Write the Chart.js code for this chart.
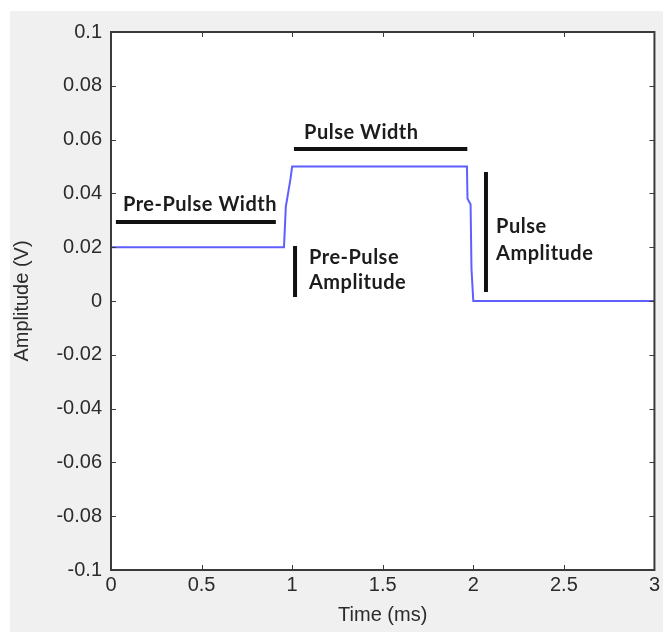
<!DOCTYPE html>
<html>
<head>
<meta charset="utf-8">
<script src="https://cdn.jsdelivr.net/npm/chart.js@4"></script>
<style>
  html, body { margin: 0; padding: 0; background: #ffffff; }
  #wrap { width: 663px; height: 632px; position: relative; }
</style>
</head>
<body>
<div id="wrap"><canvas id="pulseChart"></canvas></div>
<script>
// pulse trace (ms, V)
const timeMs = [0, 0.955, 0.965, 0.99, 1.0, 1.965, 1.968, 1.985, 1.99, 2.0, 3];
const amplitudeV = [0.02, 0.02, 0.035, 0.045, 0.05, 0.05, 0.038, 0.036, 0.012, 0, 0];

// black marker bars drawn on the plot (x pairs, y pairs)
const barX = [[0.027, 0.91], [1.01, 1.967], [1.016, 1.016], [2.07, 2.07]];
const barY = [[0.0294, 0.0294], [0.0565, 0.0565], [0.0204, 0.0015], [0.048, 0.0033]];

// annotation labels
const noteText = ['Pre-Pulse Width', 'Pulse Width', 'Pre-Pulse', 'Amplitude', 'Pulse', 'Amplitude'];
const noteX = [0.066, 1.066, 1.093, 1.093, 2.126, 2.126];
const noteY = [0.036, 0.0625, 0.016, 0.0067, 0.0275, 0.0178];

const xTicks = [0, 0.5, 1, 1.5, 2, 2.5, 3];
const yTicks = [-0.1, -0.08, -0.06, -0.04, -0.02, 0, 0.02, 0.04, 0.06, 0.08, 0.1];

const tickFont = { family: '"Liberation Sans", Arial, sans-serif', size: 20 };
const textColor = '#2b2b2b';

const signal = timeMs.map((t, i) => ({ x: t, y: amplitudeV[i] }));

const barSets = barX.map((xs, i) => ({
    data: [{ x: xs[0], y: barY[i][0] }, { x: xs[1], y: barY[i][1] }],
    borderColor: '#111111',
    borderWidth: 4,
    pointRadius: 0,
    borderCapStyle: 'butt'
}));

// gray window, white axes box, inward ticks, frame and labels
const matlabLook = {
    id: 'matlabLook',
    beforeDraw(chart) {
        const ctx = chart.ctx;
        const a = chart.chartArea;
        ctx.save();
        ctx.fillStyle = '#ffffff';
        ctx.fillRect(0, 0, chart.width, chart.height);
        ctx.fillStyle = '#f0f0f0';
        ctx.fillRect(10, 11, chart.width - 10, chart.height - 11);
        ctx.fillStyle = '#ffffff';
        ctx.fillRect(a.left, a.top, a.right - a.left, a.bottom - a.top);
        ctx.restore();
    },
    afterDatasetsDraw(chart) {
        const ctx = chart.ctx;
        const a = chart.chartArea;
        const xs = chart.scales.x;
        const ys = chart.scales.y;
        ctx.save();
        ctx.strokeStyle = '#3a3a3a';
        ctx.lineWidth = 1;
        ctx.beginPath();
        xTicks.forEach(v => {
            const px = Math.round(xs.getPixelForValue(v)) + 0.5;
            ctx.moveTo(px, a.bottom); ctx.lineTo(px, a.bottom - 5);
            ctx.moveTo(px, a.top); ctx.lineTo(px, a.top + 5);
        });
        yTicks.forEach(v => {
            const py = Math.round(ys.getPixelForValue(v)) + 0.5;
            ctx.moveTo(a.left, py); ctx.lineTo(a.left + 5, py);
            ctx.moveTo(a.right, py); ctx.lineTo(a.right - 5, py);
        });
        ctx.stroke();
        ctx.lineWidth = 2;
        ctx.strokeRect(a.left, a.top, a.right - a.left, a.bottom - a.top);

        ctx.fillStyle = '#1c1c1c';
        ctx.font = 'bold 20px Lato, "Open Sans", sans-serif';
        ctx.letterSpacing = '0.5px';
        ctx.textBaseline = 'middle';
        ctx.textAlign = 'left';
        noteText.forEach((t, i) => {
            ctx.fillText(t, xs.getPixelForValue(noteX[i]), ys.getPixelForValue(noteY[i]));
        });
        ctx.restore();
    }
};

var pulseChart = new Chart(
    document.getElementById('pulseChart'),
    {
        type: 'line',
        data: {
            datasets: [{
                data: signal,
                borderColor: '#5f5fff',
                borderWidth: 2,
                pointRadius: 0,
                tension: 0
            }].concat(barSets)
        },
        options: {
            responsive: true,
            maintainAspectRatio: false,
            animation: false,
            layout: {
                padding: { left: 0, right: 6, top: 32, bottom: 0 }
            },
            plugins: {
                legend: { display: false },
                tooltip: { enabled: false }
            },
            scales: {
                x: {
                    type: 'linear',
                    min: 0,
                    max: 3,
                    afterBuildTicks: scale => { scale.ticks = xTicks.map(v => ({ value: v })); },
                    afterFit: scale => { scale.height = 62; },
                    grid: { display: false, drawTicks: false },
                    border: { display: false },
                    ticks: {
                        color: textColor,
                        font: tickFont,
                        padding: 3,
                        maxRotation: 0,
                        callback: v => String(Number(v.toFixed(2)))
                    },
                    title: {
                        display: true,
                        text: 'Time (ms)',
                        color: textColor,
                        font: tickFont,
                        padding: { top: 0, bottom: 5 }
                    }
                },
                y: {
                    min: -0.1,
                    max: 0.1,
                    afterBuildTicks: scale => { scale.ticks = yTicks.map(v => ({ value: v })); },
                    afterFit: scale => { scale.width = 111; },
                    grid: { display: false, drawTicks: false },
                    border: { display: false },
                    ticks: {
                        color: textColor,
                        font: tickFont,
                        padding: 9,
                        callback: v => String(Number(v.toFixed(2)))
                    },
                    title: {
                        display: true,
                        text: 'Amplitude (V)',
                        color: textColor,
                        font: tickFont,
                        padding: { top: 10, bottom: 0 }
                    }
                }
            }
        },
        plugins: [matlabLook]
    }
);
</script>
</body>
</html>
